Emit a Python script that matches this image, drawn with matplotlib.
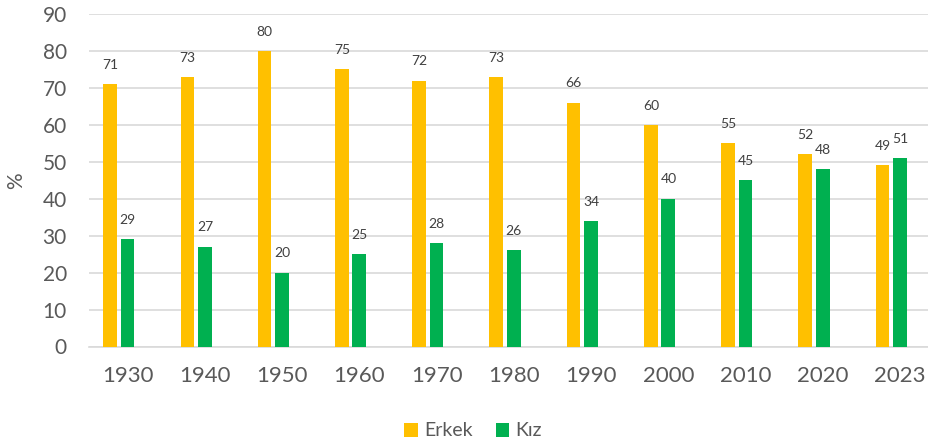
import numpy as np
import matplotlib.pyplot as plt

years = ['1930', '1940', '1950', '1960', '1970', '1980', '1990', '2000', '2010', '2020', '2023']
erkek = [71, 73, 80, 75, 72, 73, 66, 60, 55, 52, 49]
kiz = [29, 27, 20, 25, 28, 26, 34, 40, 45, 48, 51]

plt.rcParams['font.family'] = ['Lato', 'DejaVu Sans']

fig = plt.figure(figsize=(9.29, 4.46), dpi=100)
ax = fig.add_axes([89/929, 1-346.5/446, 1-89/929, (346.5-14)/446])

x = np.arange(len(years))
w = 0.178
step = 0.2265
b1 = ax.bar(x - step, erkek, w, color='#FFC000', label='Erkek', zorder=3)
b2 = ax.bar(x, kiz, w, color='#00B050', label='Kız', zorder=3)

for bars, vals in ((b1, erkek), (b2, kiz)):
    for r, v in zip(bars, vals):
        ax.annotate(str(v), (r.get_x() + r.get_width()/2, v), xytext=(0, 11),
                    textcoords='offset points', ha='center', va='baseline',
                    fontsize=10, color='#404040')

ax.set_xlim(-0.5, 10.374)
ax.set_ylim(0, 90)
ax.set_yticks(range(0, 91, 10))
ax.set_xticks(x)
ax.set_xticklabels(years)
ax.yaxis.grid(True, color='#D9D9D9', linewidth=1.2, zorder=0)
for s in ['top', 'right', 'left']:
    ax.spines[s].set_visible(False)
ax.spines['bottom'].set_color('#D9D9D9')
ax.spines['bottom'].set_linewidth(1.2)
ax.tick_params(axis='both', length=0, colors='#595959')
ax.tick_params(axis='y', labelsize=15, pad=16)
ax.tick_params(axis='x', labelsize=16, pad=14)
ax.set_ylabel('%', fontsize=15, color='#595959', labelpad=12)

ax.legend(loc='center', bbox_to_anchor=(473/929, 1-431/446), bbox_transform=fig.transFigure,
          ncol=2, frameon=False, fontsize=14, handlelength=0.7, handleheight=0.7,
          handletextpad=0.3, columnspacing=1.2, labelcolor='#595959')

fig.savefig('out.png', dpi=100)
